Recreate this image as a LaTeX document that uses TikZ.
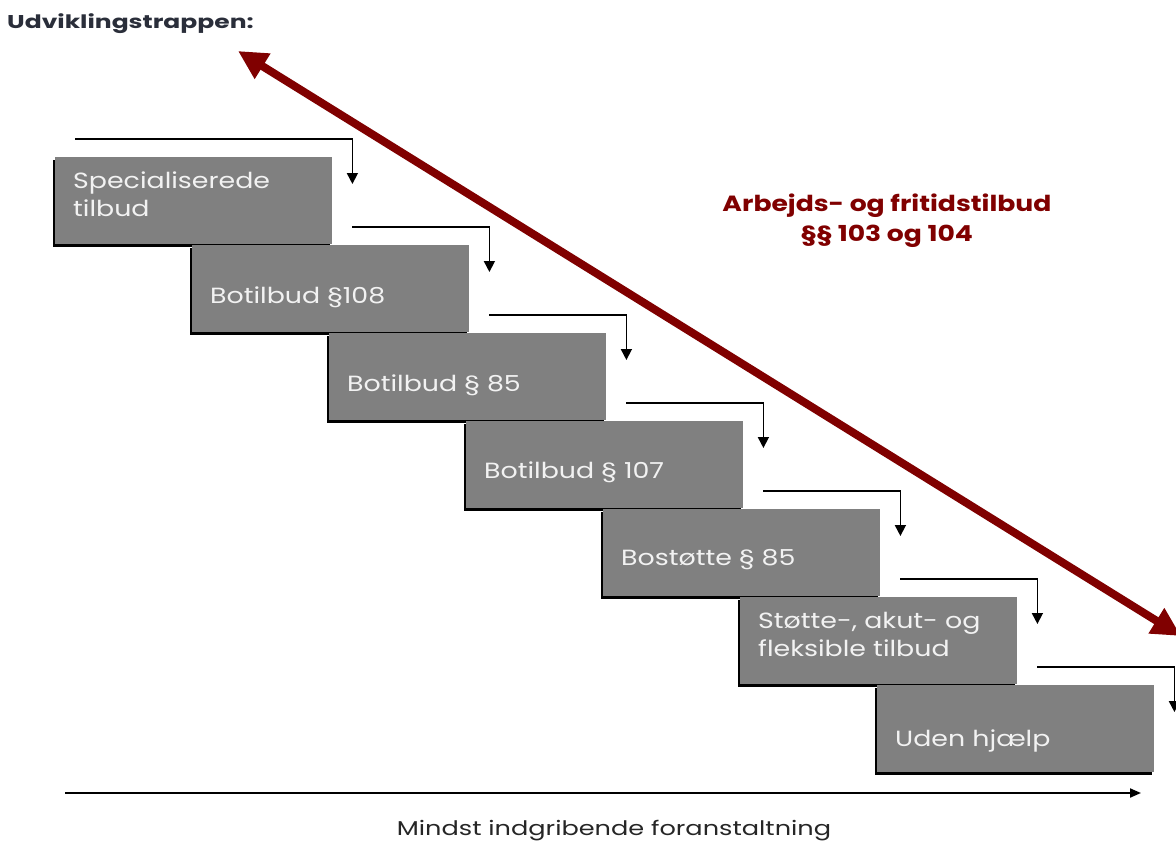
\documentclass[tikz,border=0pt]{standalone}
\usepackage{fontspec}
\setmainfont{Poppins}
\newfontfamily\lblfont[FakeStretch=1.22]{Poppins}
\newfontfamily\redfont[FakeStretch=1.21]{Poppins}
\newfontfamily\ttlfont[FakeStretch=1.35]{Poppins}
\newfontfamily\axfont[FakeStretch=1.28]{Poppins}
\usetikzlibrary{arrows.meta,calc,shadows}
\definecolor{stepgray}{HTML}{808080}
\definecolor{maroonred}{HTML}{800000}
\definecolor{titlecol}{HTML}{2A2E3A}
\definecolor{boxtext}{HTML}{F2F2F2}
\begin{document}
\begin{tikzpicture}[x=1pt,y=-1pt,
  stepbox/.style={fill=stepgray, draw=none, minimum width=277pt, minimum height=87pt, inner sep=0pt, anchor=north west,
    drop shadow={shadow xshift=-2.6pt, shadow yshift=-2.6pt, fill=black, opacity=1}},
  lbl/.style={text=boxtext, font=\lblfont\fontsize{22}{27}\selectfont, anchor=base west, inner sep=0pt},
  stepflow/.style={draw=black, line width=1.7pt, -{Triangle[length=11pt,width=11pt]}},
  bigarrow/.style={draw=maroonred, line width=8pt, {Triangle[length=29pt,width=28pt]}-{Triangle[length=29pt,width=28pt]}},
  redlbl/.style={font=\redfont\bfseries\fontsize{22}{26}\selectfont, text=maroonred, anchor=base, inner sep=0pt},
]
\useasboundingbox (0,0) rectangle (1176,843);
\fill[white] (0,0) rectangle (1176,843);

\node[anchor=base west, font=\ttlfont\bfseries\fontsize{18.5}{20}\selectfont, text=titlecol, inner sep=0pt] (title) at (7,29) {Udviklingstrappen:};

\foreach \i in {1,...,7}{
  \node[stepbox] (b\i) at ({55+137*(\i-1)},{157+88*(\i-1)}) {};
}

\node[lbl] (l1a) at ($(b1.north west)+(18,31)$) {Specialiserede};
\node[lbl] (l1b) at ($(b1.north west)+(18,59)$) {tilbud};
\node[lbl] (l2) at ($(b2.north west)+(18,58)$) {Botilbud §108};
\node[lbl] (l3) at ($(b3.north west)+(18,58)$) {Botilbud § 85};
\node[lbl] (l4) at ($(b4.north west)+(18,57)$) {Botilbud § 107};
\node[lbl] (l5) at ($(b5.north west)+(18,56)$) {Bostøtte § 85};
\node[lbl] (l6a) at ($(b6.north west)+(18,31)$) {Støtte-, akut- og};
\node[lbl] (l6b) at ($(b6.north west)+(18,59)$) {fleksible tilbud};
\node[lbl] (l7) at ($(b7.north west)+(18,61)$) {Uden hjælp};

\coordinate (s1) at ($(b1.north west)+(20,-18)$);
\foreach \i [count=\j from 2] in {1,...,6}{
  \coordinate (s\j) at ($(b\i.north east)+(20,0)$);
}
\foreach \i in {1,...,7}{
  \coordinate (e\i) at ($(b\i.north east)+(20,27)$);
  \coordinate (h\i) at ($(b\i.north)+(0,-18)$);
  \draw[stepflow] (s\i |- h\i) -| (e\i);
}

\coordinate (rtop) at (238,51);
\coordinate (rbot) at (1181,636);
\draw[bigarrow] (rtop) -- (rbot);

\node[redlbl] (red1) at (887,211) {Arbejds- og fritidstilbud};
\node[redlbl] (red2) at (887,241) {§§ 103 og 104};

\coordinate (axs) at (65,793);
\coordinate (axe) at (1141,793);
\draw[draw=black, line width=2pt, -{Triangle[length=11pt,width=9pt]}] (axs) -- (axe);
\node[font=\axfont\fontsize{20}{24}\selectfont, text=black!85, inner sep=0pt, anchor=base] (axl) at (614,835) {Mindst indgribende foranstaltning};
\end{tikzpicture}
\end{document}
